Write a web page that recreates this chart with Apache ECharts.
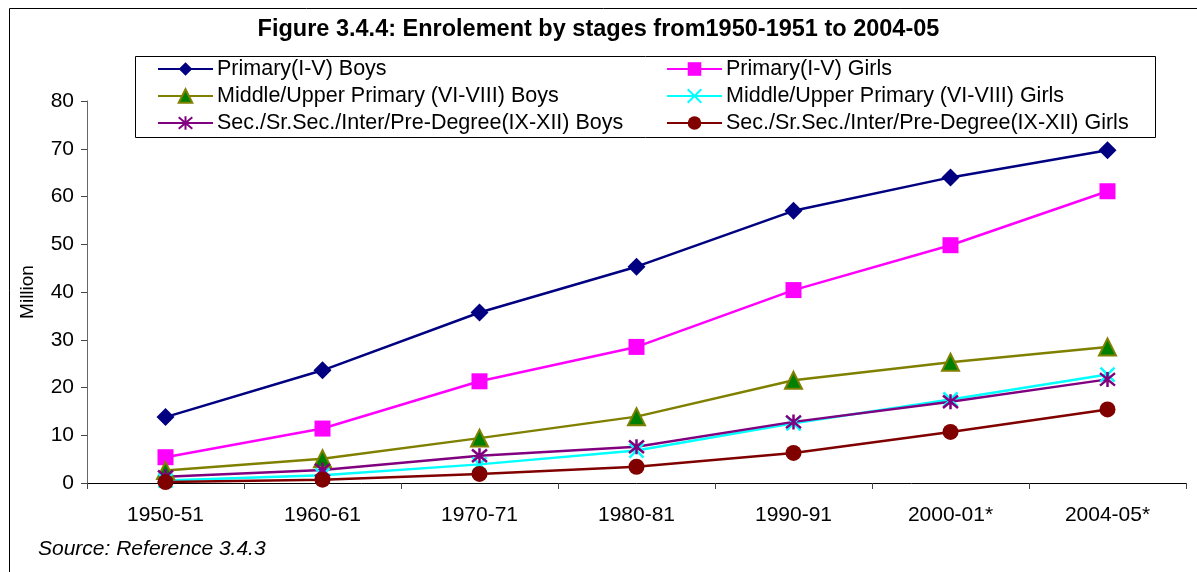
<!DOCTYPE html>
<html><head><meta charset="utf-8">
<script src="https://cdn.jsdelivr.net/npm/echarts@6/dist/echarts.min.js"></script>
<style>html,body{margin:0;padding:0;background:#fff}#c{width:1197px;height:572px}</style>
</head><body><div id="c"></div>
<script>
const categories = ['1950-51','1960-61','1970-71','1980-81','1990-91','2000-01*','2004-05*'];
const primaryBoys = [13.8, 23.6, 35.7, 45.3, 57.0, 64.0, 69.7];
const primaryGirls = [5.4, 11.4, 21.3, 28.5, 40.4, 49.8, 61.1];
const middleBoys = [2.6, 5.1, 9.4, 13.9, 21.5, 25.3, 28.5];
const middleGirls = [0.5, 1.6, 3.9, 6.8, 12.5, 17.5, 22.7];
const secBoys = [1.3, 2.7, 5.7, 7.6, 12.8, 17.0, 21.7];
const secGirls = [0.2, 0.7, 1.9, 3.4, 6.3, 10.7, 15.4];
const seriesNames = ['Primary(I-V) Boys','Primary(I-V) Girls','Middle/Upper Primary (VI-VIII) Boys','Middle/Upper Primary (VI-VIII) Girls','Sec./Sr.Sec./Inter/Pre-Degree(IX-XII) Boys','Sec./Sr.Sec./Inter/Pre-Degree(IX-XII) Girls'];
const yTicks = {min: 0, max: 80, interval: 10};

const FONT = 'Liberation Sans, Arial, sans-serif';
const xPath = 'path://M0,0L10,10M10,0L0,10';
const starPath = 'path://M0,0L10,10M10,0L0,10M5,-1L5,11';

function mk(name, data, color, symbol, size, itemStyle) {
  return {
    name, type: 'line', data, symbol, symbolSize: size,
    lineStyle: {color, width: 2.5},
    itemStyle: Object.assign({color}, itemStyle || {}),
    emphasis: {disabled: true}, animation: false, z: 2
  };
}

const legendText = {fontFamily: FONT, fontSize: 21.5, color: '#000', padding: [0,0,0,-1]};
const chart = echarts.init(document.getElementById('c'), null, {renderer: 'canvas'});
chart.setOption({
  animation: false,
  title: {
    text: 'Figure 3.4.4: Enrolement by stages from1950-1951 to 2004-05',
    left: 'center', top: 13,
    textStyle: {fontFamily: FONT, fontSize: 23.5, fontWeight: 'bold', color: '#000'}
  },
  legend: [
    {data: [seriesNames[0], seriesNames[2], seriesNames[4]], orient: 'vertical', left: 152, top: 53,
     itemGap: 5, itemWidth: 55, itemHeight: 17, textStyle: legendText},
    {data: [seriesNames[1], seriesNames[3], seriesNames[5]], orient: 'vertical', left: 661, top: 53,
     itemGap: 5, itemWidth: 55, itemHeight: 17, textStyle: legendText}
  ],
  grid: {left: 87, right: 11, top: 101, bottom: 89, containLabel: false},
  xAxis: {
    type: 'category', data: categories, boundaryGap: true,
    axisLine: {lineStyle: {color: '#000', width: 1}},
    axisTick: {show: true, length: 6, lineStyle: {color: '#444'}},
    axisLabel: {fontFamily: FONT, fontSize: 21, color: '#000', margin: 22}
  },
  yAxis: {
    type: 'value', min: yTicks.min, max: yTicks.max, interval: yTicks.interval,
    name: 'Million', nameLocation: 'middle', nameGap: 50,
    nameTextStyle: {fontFamily: FONT, fontSize: 19, color: '#000'},
    axisLine: {show: true, lineStyle: {color: '#666', width: 1}},
    axisTick: {show: true, length: 6, lineStyle: {color: '#444'}},
    splitLine: {show: false},
    axisLabel: {fontFamily: FONT, fontSize: 21, color: '#000', margin: 13}
  },
  graphic: [
    {type: 'rect', shape: {x: 9.5, y: 8.5, width: 1250, height: 700}, style: {fill: 'none', stroke: '#000', lineWidth: 1}, silent: true, z: -1},
    {type: 'rect', shape: {x: 135.5, y: 56.5, width: 1020, height: 81}, style: {fill: 'none', stroke: '#000', lineWidth: 1}, silent: true, z: -1},
    {type: 'text', left: 38, top: 539, style: {text: 'Source: Reference 3.4.3', font: 'italic 21px ' + FONT, fill: '#000'}}
  ],
  series: [
    mk(seriesNames[0], primaryBoys, '#000080', 'diamond', 18),
    mk(seriesNames[1], primaryGirls, '#FF00FF', 'rect', 16),
    mk(seriesNames[2], middleBoys, '#808000', 'triangle', 17, {color: '#008000', borderColor: '#808000', borderWidth: 2}),
    mk(seriesNames[3], middleGirls, '#00FFFF', xPath, 14, {color: 'none', borderColor: '#00FFFF', borderWidth: 2.5}),
    mk(seriesNames[4], secBoys, '#800080', starPath, 15, {color: 'none', borderColor: '#800080', borderWidth: 2.5}),
    mk(seriesNames[5], secGirls, '#800000', 'circle', 16)
  ]
});
</script></body></html>
